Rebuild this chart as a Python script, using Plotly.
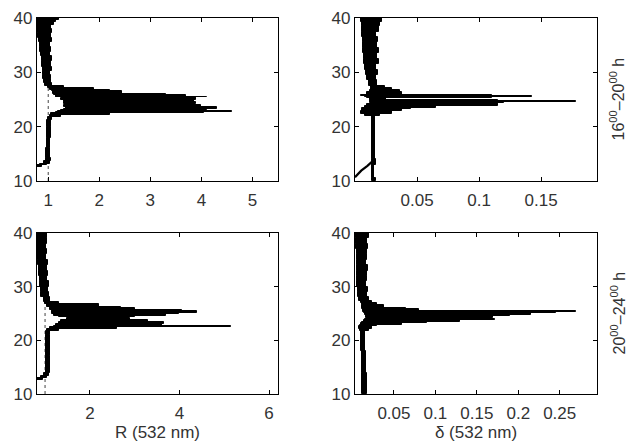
import plotly.graph_objects as go
from plotly.subplots import make_subplots

# ---------------- data (altitude bin edges in km, min / max of profile per bin) -------------
# Top-left: backscatter ratio R (532 nm), 16-20 h
TL_EDGES = [12.6, 12.9, 13.2, 13.6, 14.3, 16, 18, 20, 21.2, 21.8, 22.2, 22.45, 22.7, 22.9, 23.15,
            23.3, 23.6, 23.9, 24.1, 24.25, 24.6, 24.85, 25.0, 25.25, 25.4, 25.55, 25.8, 26.1, 26.5,
            26.8, 27.1, 27.4, 28.0, 28.7, 29.5, 30.3, 31.0, 32.0, 33.0, 33.8, 34.6, 35.5, 36.3,
            37.2, 38.0, 38.7, 39.3, 39.7, 40]
TL_LO = [0.78, 0.84, 0.92, 0.96, 0.96, 0.97, 0.97, 0.98, 1.00, 1.03, 1.05, 1.15, 1.20, 1.25, 1.30,
         1.35, 1.30, 1.35, 3.10, 1.30, 1.30, 1.30, 1.25, 2.50, 1.15, 1.15, 1.12, 1.10, 1.08, 1.04,
         1.00, 0.93, 0.91, 0.90, 0.90, 0.89, 0.88, 0.88, 0.86, 0.84, 0.83, 0.81, 0.80, 0.79, 0.78,
         0.78, 0.78, 0.78]
TL_HI = [0.88, 0.98, 1.03, 1.05, 1.04, 1.04, 1.05, 1.05, 1.08, 1.25, 2.20, 4.05, 4.60, 4.10, 3.55,
         4.30, 4.00, 3.60, 3.70, 3.90, 3.85, 3.50, 3.90, 3.90, 4.10, 3.70, 3.30, 2.45, 2.20, 1.90,
         1.30, 1.07, 1.05, 1.06, 1.04, 1.07, 1.05, 1.07, 1.04, 1.06, 1.04, 1.07, 1.05, 1.08, 1.06,
         1.12, 1.16, 1.21]

# Top-right: depolarization ratio delta (532 nm), 16-20 h
TR_EDGES = [10, 10.5, 13, 14, 22, 22.4, 22.8, 23.2, 23.5, 23.8, 24.1, 24.3, 24.55, 24.7, 24.95,
            25.2, 25.5, 25.7, 25.9, 26.3, 26.8, 27.1, 27.5, 28.5, 29.5, 30.5, 31.5, 32.5, 33.5,
            34.5, 35.5, 36.5, 37.5, 38.5, 39.3, 40]
TR_LO = [0.0140, 0.0135, 0.0135, 0.0135, 0.008, 0.005, 0.006, 0.006, 0.008, 0.010, 0.057, 0.012,
         0.012, 0.012, 0.012, 0.010, 0.008, 0.005, 0.010, 0.012, 0.013, 0.013, 0.011, 0.010, 0.009,
         0.008, 0.0075, 0.007, 0.0068, 0.0065, 0.0062, 0.006, 0.0058, 0.0055, 0.005]
TR_HI = [0.0170, 0.0155, 0.0170, 0.0160, 0.020, 0.030, 0.038, 0.045, 0.065, 0.115, 0.115, 0.120,
         0.178, 0.115, 0.025, 0.110, 0.143, 0.110, 0.038, 0.036, 0.030, 0.024, 0.018, 0.017, 0.0185,
         0.017, 0.019, 0.0175, 0.0195, 0.018, 0.0185, 0.017, 0.019, 0.020, 0.022]
# second, lower branch of the 16-20 h depolarization profile
TR_TAIL_ALT = [10.7, 11.9, 12.8, 13.6]
TR_TAIL_VAL = [0.000, 0.005, 0.010, 0.014]

# Bottom-left: R (532 nm), 20-24 h
BL_EDGES = [12.6, 12.9, 13.3, 14.0, 17, 21.0, 21.8, 22.1, 22.4, 22.7, 23.0, 23.4, 23.8, 24.1, 24.3,
            24.6, 24.9, 25.15, 25.4, 25.7, 26.0, 26.3, 26.7, 27.1, 28, 29, 30, 31, 32, 33, 34, 35,
            36, 37, 38, 39, 40]
BL_LO = [0.82, 0.90, 0.98, 1.01, 1.02, 1.03, 1.05, 1.10, 1.20, 1.25, 1.30, 1.35, 1.50, 1.80, 1.30,
         1.20, 1.15, 1.15, 1.15, 1.12, 1.10, 1.05, 1.00, 0.98, 0.91, 0.90, 0.88, 0.88, 0.86, 0.86,
         0.85, 0.84, 0.83, 0.83, 0.82, 0.82]
BL_HI = [0.95, 1.05, 1.08, 1.10, 1.10, 1.12, 1.30, 2.60, 5.15, 3.60, 3.65, 3.30, 2.90, 2.60, 3.00,
         3.70, 4.00, 4.40, 4.05, 3.00, 2.70, 2.20, 1.30, 1.10, 1.08, 1.06, 1.08, 1.05, 1.07, 1.04,
         1.06, 1.03, 1.05, 1.02, 1.04, 1.05]

# Bottom-right: delta (532 nm), 20-24 h
BR_EDGES = [10, 14, 18, 21.8, 22.2, 22.6, 22.9, 23.2, 23.5, 23.8, 24.0, 24.2, 24.5, 24.8, 25.1,
            25.35, 25.55, 25.75, 26.0, 26.5, 26.9, 27.3, 28, 29, 30, 31, 32, 33, 34, 35, 36, 37,
            38, 39, 40]
BR_LO = [0.012, 0.011, 0.010, 0.009, 0.008, 0.009, 0.010, 0.012, 0.014, 0.015, 0.040, 0.016, 0.016,
         0.015, 0.014, 0.013, 0.013, 0.012, 0.012, 0.011, 0.010, 0.008, 0.007, 0.007, 0.006, 0.006,
         0.006, 0.0055, 0.0055, 0.005, 0.005, 0.0045, 0.0045, 0.004]
BR_HI = [0.017, 0.016, 0.015, 0.020, 0.023, 0.030, 0.060, 0.090, 0.130, 0.172, 0.160, 0.170, 0.190,
         0.215, 0.245, 0.270, 0.080, 0.064, 0.038, 0.030, 0.024, 0.020, 0.017, 0.019, 0.016, 0.018,
         0.017, 0.019, 0.0165, 0.018, 0.017, 0.019, 0.018, 0.020]

REF_R = 1.0  # R = 1 reference (dotted)

X_TICKS = {
    (1, 1): ([1, 2, 3, 4, 5], ["1", "2", "3", "4", "5"]),
    (1, 2): ([0.05, 0.1, 0.15], ["0.05", "0.1", "0.15"]),
    (2, 1): ([2, 4, 6], ["2", "4", "6"]),
    (2, 2): ([0.05, 0.1, 0.15, 0.2, 0.25], ["0.05", "0.1", "0.15", "0.2", "0.25"]),
}
Y_TICKS = [10, 20, 30, 40]
X_TITLES = {(2, 1): "R (532 nm)", (2, 2): "δ (532 nm)"}
ROW_LABELS = ["16<sup>00</sup>–20<sup>00</sup> h", "20<sup>00</sup>–24<sup>00</sup> h"]

FONT = "Liberation Sans, Arial, sans-serif"
TXT = "#333"

# ---------------- figure ----------------
fig = make_subplots(rows=2, cols=2)

panels = [
    (1, 1, TL_EDGES, TL_LO, TL_HI),
    (1, 2, TR_EDGES, TR_LO, TR_HI),
    (2, 1, BL_EDGES, BL_LO, BL_HI),
    (2, 2, BR_EDGES, BR_LO, BR_HI),
]
for r, c, edges, lo, hi in panels:
    centers = [(a + b) / 2 for a, b in zip(edges[:-1], edges[1:])]
    thick = [b - a for a, b in zip(edges[:-1], edges[1:])]
    length = [h - l for l, h in zip(lo, hi)]
    fig.add_trace(go.Bar(y=centers, x=length, base=lo, width=thick, orientation="h",
                         marker=dict(color="black", line=dict(color="black", width=1.0)),
                         hoverinfo="skip"), row=r, col=c)

fig.add_trace(go.Scatter(x=TR_TAIL_VAL, y=TR_TAIL_ALT, mode="lines",
                         line=dict(color="black", width=2.2), hoverinfo="skip"), row=1, col=2)

X_RANGES = {(1, 1): [0.78, 5.5], (1, 2): [0.0, 0.195], (2, 1): [0.82, 6.2], (2, 2): [0.003, 0.295]}
X_DOM = {1: [37 / 630, 278 / 630], 2: [355 / 630, 597 / 630]}
Y_DOM = {1: [1 - 181 / 446, 1 - 18 / 446], 2: [1 - 394 / 446, 1 - 233 / 446]}

axis_style = dict(showline=True, linecolor="black", linewidth=1.4, mirror="ticks",
                  ticks="inside", ticklen=4, tickwidth=1, tickcolor="black",
                  showgrid=False, zeroline=False, automargin=False,
                  tickfont=dict(family=FONT, size=17, color=TXT))

for (r, c), (tv, tt) in X_TICKS.items():
    xa = dict(domain=X_DOM[c], range=X_RANGES[(r, c)], tickmode="array", tickvals=tv,
              ticktext=tt, ticklabelstandoff=3, **axis_style)
    if (r, c) in X_TITLES:
        xa["title"] = dict(text=X_TITLES[(r, c)], standoff=0, font=dict(family=FONT, size=17, color=TXT))
    fig.update_xaxes(row=r, col=c, **xa)
    fig.update_yaxes(row=r, col=c, domain=Y_DOM[r], range=[10, 40],
                     tickmode="array", tickvals=Y_TICKS, ticktext=[str(v) for v in Y_TICKS],
                     **axis_style)

# R = 1 dotted reference line in left panels
for r in (1, 2):
    fig.add_shape(type="line", x0=REF_R, x1=REF_R, y0=0, y1=1, xref=f"x{'' if r == 1 else 3}",
                  yref=f"y{'' if r == 1 else 3} domain",
                  line=dict(color="#444", width=1, dash="dot"), layer="below")

for i, txt in enumerate(ROW_LABELS):
    yc = (Y_DOM[i + 1][0] + Y_DOM[i + 1][1]) / 2
    fig.add_annotation(text=txt, x=618 / 630, y=yc, xref="paper", yref="paper",
                       textangle=-90, showarrow=False, xanchor="center", yanchor="middle",
                       font=dict(family=FONT, size=16, color=TXT))

fig.update_layout(width=630, height=446, margin=dict(l=0, r=0, t=0, b=0),
                  paper_bgcolor="white", plot_bgcolor="white", showlegend=False,
                  template="none", bargap=0)

fig.write_html("out.html", config={"displayModeBar": False},
               post_script="document.body.style.margin='0';document.body.style.overflow='hidden';")
